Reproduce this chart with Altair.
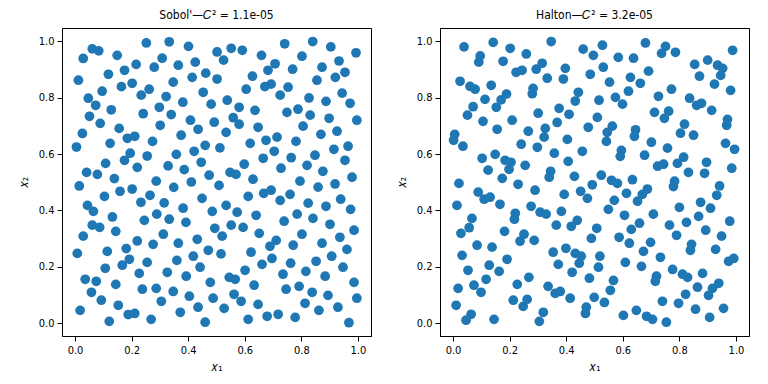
import altair as alt
import pandas as pd

# Sobol' points (x1, x2)
sobol_points = [
    (0.252,0.994),(0.333,0.998),(0.401,0.982),(0.061,0.973),(0.084,0.966),(0.029,0.939),(0.149,0.950),(0.308,0.940),
    (0.425,0.926),(0.216,0.918),(0.365,0.915),(0.280,0.908),(0.175,0.897),(0.118,0.883),(0.462,0.887),(0.414,0.872),
    (0.012,0.862),(0.347,0.855),(0.202,0.851),(0.164,0.839),(0.262,0.830),(0.096,0.823),(0.453,0.819),(0.234,0.809),
    (0.322,0.804),(0.047,0.798),(0.381,0.784),(0.481,0.777),(0.073,0.773),(0.298,0.766),(0.128,0.757),(0.241,0.743),
    (0.340,0.740),(0.051,0.734),(0.408,0.720),(0.492,0.713),(0.089,0.709),(0.301,0.702),(0.435,0.688),(0.156,0.691),
    (0.026,0.673),(0.375,0.667),(0.185,0.656),(0.211,0.663),(0.274,0.645),(0.124,0.638),(0.460,0.631),(0.005,0.625),
    (0.421,0.610),(0.195,0.603),(0.358,0.599),(0.255,0.593),(0.175,0.578),(0.108,0.567),(0.446,0.571),(0.329,0.558),
    (0.220,0.553),(0.386,0.545),(0.041,0.535),(0.079,0.528),(0.474,0.525),(0.139,0.513),(0.287,0.504),(0.411,0.501),
    (0.741,0.991),(0.840,0.999),(0.904,0.980),(0.552,0.975),(0.591,0.968),(0.502,0.962),(0.993,0.959),(0.659,0.950),
    (0.802,0.947),(0.525,0.933),(0.933,0.930),(0.707,0.920),(0.873,0.908),(0.769,0.901),(0.682,0.897),(0.954,0.890),
    (0.627,0.876),(0.920,0.872),(0.502,0.866),(0.855,0.862),(0.693,0.848),(0.671,0.839),(0.753,0.837),(0.605,0.830),
    (0.944,0.816),(0.725,0.809),(0.827,0.799),(0.538,0.791),(0.887,0.787),(0.972,0.780),(0.580,0.766),(0.788,0.759),
    (0.636,0.755),(0.749,0.748),(0.831,0.738),(0.559,0.729),(0.898,0.727),(0.996,0.720),(0.580,0.706),(0.806,0.699),
    (0.647,0.695),(0.534,0.677),(0.926,0.681),(0.869,0.670),(0.714,0.660),(0.675,0.649),(0.781,0.645),(0.619,0.638),
    (0.512,0.622),(0.965,0.628),(0.915,0.617),(0.704,0.610),(0.848,0.596),(0.764,0.587),(0.665,0.585),(0.954,0.578),
    (0.598,0.564),(0.820,0.560),(0.728,0.550),(0.876,0.539),(0.548,0.535),(0.569,0.528),(0.979,0.518),(0.629,0.511),
    (0.795,0.504),
    (0.015,0.487),(0.349,0.482),(0.202,0.476),(0.159,0.468),(0.265,0.454),(0.104,0.450),(0.449,0.443),(0.233,0.429),
    (0.315,0.427),(0.044,0.418),(0.382,0.408),(0.065,0.397),(0.485,0.397),(0.289,0.387),(0.132,0.377),(0.245,0.365),
    (0.333,0.369),(0.392,0.358),(0.061,0.348),(0.087,0.340),(0.494,0.337),(0.144,0.326),(0.312,0.316),(0.029,0.309),
    (0.432,0.298),(0.220,0.292),(0.276,0.280),(0.365,0.284),(0.181,0.265),(0.471,0.259),(0.114,0.255),(0.008,0.248),
    (0.418,0.238),(0.192,0.227),(0.360,0.223),(0.255,0.216),(0.167,0.206),(0.107,0.195),(0.442,0.199),(0.326,0.181),
    (0.227,0.177),(0.393,0.167),(0.036,0.156),(0.075,0.149),(0.478,0.145),(0.144,0.138),(0.238,0.121),(0.287,0.124),
    (0.347,0.113),(0.058,0.110),(0.404,0.096),(0.488,0.089),(0.093,0.082),(0.305,0.078),(0.153,0.064),(0.435,0.057),
    (0.018,0.046),(0.372,0.039),(0.188,0.031),(0.211,0.035),(0.269,0.014),(0.121,0.007),(0.460,0.004),
    (0.509,0.489),(0.859,0.483),(0.919,0.494),(0.667,0.461),(0.693,0.472),(0.612,0.450),(0.760,0.457),(0.725,0.436),
    (0.939,0.440),(0.534,0.418),(0.824,0.426),(0.887,0.415),(0.974,0.404),(0.573,0.394),(0.640,0.383),(0.785,0.387),
    (0.841,0.372),(0.739,0.362),(0.552,0.348),(0.594,0.340),(0.901,0.351),(0.986,0.330),(0.651,0.319),(0.802,0.316),
    (0.520,0.309),(0.936,0.305),(0.711,0.294),(0.873,0.284),(0.689,0.273),(0.771,0.277),(0.961,0.262),(0.622,0.252),
    (0.516,0.246),(0.907,0.238),(0.696,0.230),(0.852,0.220),(0.762,0.213),(0.661,0.209),(0.947,0.199),(0.601,0.188),
    (0.816,0.184),(0.735,0.174),(0.884,0.167),(0.545,0.163),(0.566,0.156),(0.986,0.145),(0.633,0.135),(0.792,0.131),
    (0.746,0.121),(0.838,0.110),(0.562,0.103),(0.894,0.099),(0.996,0.089),(0.587,0.078),(0.813,0.071),(0.647,0.067),
    (0.527,0.053),(0.929,0.057),(0.862,0.046),(0.679,0.025),(0.718,0.032),(0.778,0.021),(0.612,0.014),(0.968,0.002),
]

# Halton points (x1, x2)
halton_points = [
    (0.039,0.980),(0.142,0.996),(0.202,0.975),(0.347,0.999),(0.096,0.948),(0.091,0.926),(0.259,0.955),(0.177,0.929),
    (0.460,0.972),(0.496,0.950),(0.315,0.922),(0.223,0.890),(0.244,0.897),(0.294,0.901),(0.397,0.904),(0.485,0.883),
    (0.333,0.869),(0.390,0.866),(0.025,0.858),(0.060,0.840),(0.078,0.830),(0.135,0.844),(0.283,0.833),(0.280,0.814),
    (0.189,0.813),(0.170,0.792),(0.113,0.794),(0.443,0.819),(0.432,0.788),(0.153,0.766),(0.071,0.768),(0.375,0.762),
    (0.301,0.745),(0.051,0.738),(0.410,0.741),(0.106,0.716),(0.209,0.720),(0.368,0.712),(0.478,0.695),(0.156,0.688),
    (0.326,0.691),(0.266,0.681),(0.006,0.670),(0.002,0.649),(0.322,0.660),(0.404,0.652),(0.035,0.628),(0.241,0.635),
    (0.298,0.624),(0.358,0.603),(0.457,0.610),(0.103,0.585),(0.149,0.599),(0.184,0.578),(0.205,0.571),(0.198,0.546),
    (0.407,0.574),(0.255,0.560),(0.124,0.543),(0.345,0.539),(0.340,0.518),(0.174,0.514),(0.429,0.521),(0.021,0.496),
    (0.528,0.986),(0.680,0.994),(0.751,0.982),(0.737,0.957),(0.786,0.961),(0.988,0.968),(0.584,0.943),(0.638,0.940),
    (0.900,0.933),(0.854,0.918),(0.935,0.915),(0.953,0.904),(0.531,0.908),(0.691,0.894),(0.946,0.879),(0.871,0.876),
    (0.627,0.872),(0.553,0.855),(0.662,0.851),(0.924,0.848),(0.772,0.830),(0.620,0.823),(0.981,0.826),(0.726,0.805),
    (0.574,0.801),(0.836,0.798),(0.516,0.791),(0.599,0.777),(0.878,0.780),(0.861,0.773),(0.914,0.755),(0.762,0.752),
    (0.712,0.748),(0.747,0.727),(0.510,0.730),(0.970,0.723),(0.967,0.702),(0.818,0.706),(0.563,0.699),(0.545,0.677),
    (0.645,0.686),(0.641,0.663),(0.804,0.674),(0.850,0.667),(0.542,0.645),(0.701,0.642),(0.963,0.638),(0.995,0.617),
    (0.758,0.621),(0.595,0.613),(0.591,0.592),(0.677,0.596),(0.815,0.589),(0.793,0.567),(0.744,0.564),(0.723,0.557),
    (0.896,0.571),(0.985,0.550),(0.832,0.535),(0.889,0.532),(0.524,0.525),(0.560,0.507),(0.581,0.496),(0.634,0.509),
    (0.783,0.504),
    (0.230,0.493),(0.492,0.491),(0.290,0.472),(0.089,0.465),(0.393,0.457),(0.451,0.468),(0.475,0.443),(0.110,0.440),
    (0.131,0.447),(0.014,0.418),(0.166,0.422),(0.276,0.415),(0.220,0.390),(0.308,0.394),(0.329,0.387),(0.383,0.397),
    (0.217,0.369),(0.067,0.372),(0.439,0.365),(0.365,0.348),(0.418,0.344),(0.057,0.339),(0.182,0.326),(0.028,0.319),
    (0.251,0.316),(0.489,0.301),(0.237,0.291),(0.287,0.294),(0.085,0.277),(0.138,0.270),(0.399,0.266),(0.354,0.252),
    (0.432,0.248),(0.453,0.238),(0.032,0.241),(0.191,0.227),(0.372,0.209),(0.446,0.213),(0.128,0.206),(0.053,0.188),
    (0.163,0.184),(0.421,0.181),(0.268,0.163),(0.482,0.160),(0.117,0.156),(0.227,0.138),(0.074,0.135),(0.336,0.131),
    (0.018,0.124),(0.099,0.110),(0.379,0.113),(0.361,0.106),(0.499,0.092),(0.414,0.089),(0.213,0.082),(0.262,0.085),
    (0.248,0.060),(0.011,0.064),(0.471,0.057),(0.468,0.035),(0.064,0.032),(0.319,0.039),(0.046,0.011),(0.145,0.014),
    (0.305,0.007),
    (0.779,0.485),(0.687,0.476),(0.942,0.487),(0.613,0.461),(0.669,0.457),(0.932,0.454),(0.570,0.436),(0.652,0.433),
    (0.875,0.429),(0.800,0.411),(0.910,0.408),(0.549,0.404),(0.606,0.383),(0.708,0.387),(0.868,0.379),(0.978,0.362),
    (0.659,0.355),(0.825,0.358),(0.765,0.348),(0.508,0.337),(0.630,0.333),(0.893,0.330),(0.790,0.312),(0.587,0.305),
    (0.949,0.309),(0.698,0.287),(0.623,0.284),(0.843,0.280),(0.839,0.259),(0.673,0.255),(0.928,0.262),(0.519,0.238),
    (0.733,0.234),(0.609,0.216),(0.974,0.220),(0.992,0.230),(0.514,0.199),(0.666,0.202),(0.776,0.191),(0.811,0.174),
    (0.829,0.163),(0.882,0.177),(0.719,0.167),(0.715,0.149),(0.567,0.152),(0.939,0.142),(0.917,0.124),(0.864,0.128),
    (0.556,0.117),(0.822,0.103),(0.903,0.099),(0.535,0.074),(0.740,0.078),(0.797,0.071),(0.857,0.050),(0.956,0.053),
    (0.648,0.046),(0.602,0.028),(0.684,0.025),(0.705,0.014),(0.754,0.004),(0.907,0.021),
]

titles = ["Sobol'\u2014\U0001D436\u00b2 = 1.1e-05", "Halton\u2014\U0001D436\u00b2 = 3.2e-05"]
tick_values = [0.0, 0.2, 0.4, 0.6, 0.8, 1.0]
x_label = "\U0001D465\u2081"
y_label = "\U0001D465\u2082"

FONT = "DejaVu Sans Condensed, DejaVu Sans"


def panel(points, title):
    df = pd.DataFrame(points, columns=["x1", "x2"])
    return (
        alt.Chart(df, title=alt.TitleParams(title, fontSize=12, font=FONT,
                                            fontWeight="normal", offset=6, color="black"))
        .mark_circle(size=95, color="#1f77b4", opacity=1)
        .encode(
            x=alt.X("x1:Q",
                    scale=alt.Scale(domain=[-0.046, 1.046], nice=False, zero=False),
                    axis=alt.Axis(values=tick_values, format=".1f", title=x_label,
                                  grid=False, titlePadding=6)),
            y=alt.Y("x2:Q",
                    scale=alt.Scale(domain=[-0.045, 1.047], nice=False, zero=False),
                    axis=alt.Axis(values=tick_values, format=".1f", title=y_label,
                                  grid=False, titlePadding=8)),
        )
        .properties(width=309, height=308)
    )


chart = (
    alt.hconcat(panel(sobol_points, titles[0]), panel(halton_points, titles[1]), spacing=22)
    .properties(padding={"left": 8, "top": 0, "right": 5, "bottom": 5})
    .configure_view(stroke="black", strokeWidth=1)
    .configure_axis(domainColor="black", tickColor="black", labelColor="black",
                    titleColor="black", labelFont=FONT, titleFont=FONT,
                    labelFontSize=11, titleFontSize=12, titleFontWeight="normal",
                    tickSize=5, labelPadding=3, domainWidth=1, tickWidth=1)
)

chart.save("out.html", embed_options={"renderer": "svg", "actions": False})
